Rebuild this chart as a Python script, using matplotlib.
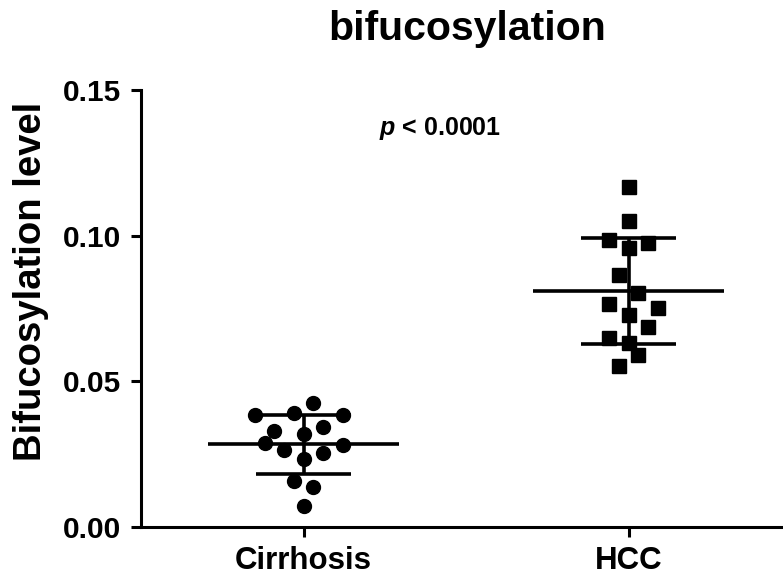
import numpy as np
import matplotlib
matplotlib.use('Agg')
import matplotlib.pyplot as plt

plt.rcParams['font.family'] = ['Liberation Sans', 'DejaVu Sans']
plt.rcParams['mathtext.fontset'] = 'custom'
plt.rcParams['mathtext.it'] = 'Liberation Sans:italic:bold'

# data
groups = ['Cirrhosis', 'HCC']
cirrhosis = [0.0426, 0.0386, 0.0390, 0.0384, 0.0329, 0.0344, 0.0319, 0.0287,
             0.0281, 0.0264, 0.0253, 0.0232, 0.0159, 0.0138, 0.0072]
cirrhosis_x = [1.03, 0.85, 0.97, 1.12, 0.91, 1.06, 1.0, 0.88,
               1.12, 0.94, 1.06, 1.0, 0.97, 1.03, 1.0]
hcc = [0.1167, 0.1052, 0.0984, 0.0975, 0.0959, 0.0864, 0.0803, 0.0767,
       0.0752, 0.0727, 0.0685, 0.0650, 0.0632, 0.0590, 0.0552]
hcc_x = [2.0, 2.0, 1.94, 2.06, 2.0, 1.97, 2.03, 1.94,
         2.09, 2.0, 2.06, 1.94, 2.0, 2.03, 1.97]
y_ticks = [0.00, 0.05, 0.10, 0.15]

fig = plt.figure(figsize=(7.83, 5.82), dpi=100)
ax = fig.add_axes([141 / 783, 1 - 527 / 582, 642 / 783, 437 / 582])

ax.plot(cirrhosis_x, cirrhosis, 'o', color='black', markersize=10, zorder=3)
ax.plot(hcc_x, hcc, 's', color='black', markersize=9.5, zorder=3)

# mean and SD bars
for pos, vals in zip([1, 2], [cirrhosis, hcc]):
    m = np.mean(vals)
    sd = np.std(vals, ddof=1)
    ax.hlines(m, pos - 0.295, pos + 0.295, color='black', lw=2.6, zorder=4)
    ax.hlines([m - sd, m + sd], pos - 0.146, pos + 0.146, color='black', lw=2.6, zorder=4)
    ax.vlines(pos, m - sd, m + sd, color='black', lw=2.6, zorder=4)

ax.set_xlim(0.5, 2.475)
ax.set_ylim(0, 0.15)
ax.set_xticks([1, 2])
ax.set_xticklabels(groups, fontsize=22.5, fontweight='bold')
ax.set_yticks(y_ticks)
ax.set_yticklabels(['%.2f' % v for v in y_ticks], fontsize=21.5, fontweight='bold')
ax.tick_params(width=2.2, length=7, pad=7)

for s in ['top', 'right']:
    ax.spines[s].set_visible(False)
for s in ['left', 'bottom']:
    ax.spines[s].set_linewidth(2.2)

ax.set_ylabel('Bifucosylation level', fontsize=27.5, fontweight='bold')
ax.yaxis.set_label_coords(-0.144, 0.563)

ax.text(1.42, 0.1368, r'$p$ < 0.0001', fontsize=18, fontweight='bold',
        ha='center', va='center')

fig.text(467 / 783, 1 - 29 / 582, 'bifucosylation', fontsize=29.5,
         fontweight='bold', ha='center', va='center')

fig.savefig('out.png', dpi=100)
